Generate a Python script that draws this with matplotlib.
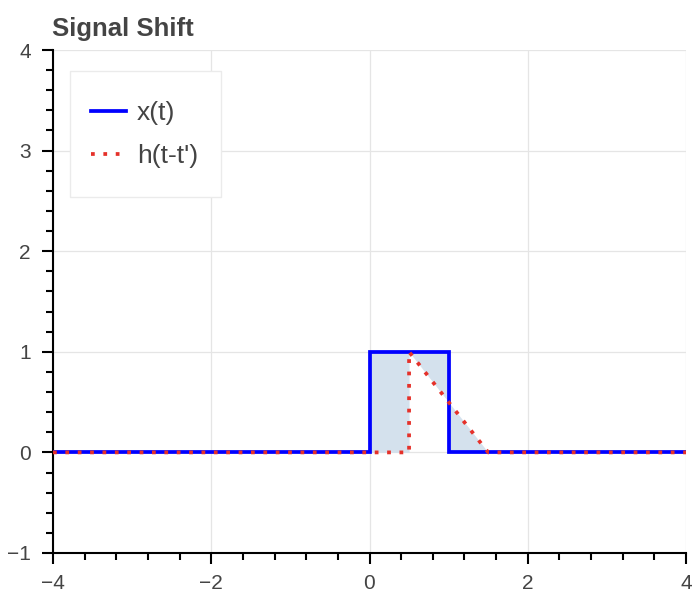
import matplotlib.pyplot as plt
from matplotlib.patches import Rectangle
from matplotlib.ticker import MultipleLocator

# ---- data
t_x = [-4, 0, 0, 1, 1, 4]
x_vals = [0, 0, 1, 1, 0, 0]

t_h = [-4, 0.5, 0.5, 1.5, 4]
h_vals = [0, 0, 1, 0, 0]

# overlap region between x(t) and h(t-t')
t_fill = [0, 0.5, 0.5, 1, 1, 1.5]
x_fill = [1, 1, 1, 1, 0, 0]
h_fill = [0, 0, 1, 0.5, 0.5, 0]

plt.rcParams['font.family'] = ['Liberation Sans', 'DejaVu Sans']
text_col = '#444444'

fig = plt.figure(figsize=(7.0, 6.04), dpi=100)
W, H = 700, 604
ax = fig.add_axes([53 / W, (H - 553) / H, (686 - 53) / W, (553 - 50) / H])

ax.fill_between(t_fill, x_fill, h_fill, color='#d4e1ed', lw=0, zorder=2)
ax.plot(t_x, x_vals, color='#0000ff', lw=2.7, label='x(t)', zorder=3,
        solid_joinstyle='miter')
ax.plot(t_h, h_vals, color='#e5312a', lw=2.7, ls=(0, (1.0, 2.3)),
        label="h(t-t')", zorder=4)

ax.set_xlim(-4, 4)
ax.set_ylim(-1, 4)
ax.xaxis.set_major_locator(MultipleLocator(2))
ax.xaxis.set_minor_locator(MultipleLocator(0.4))
ax.yaxis.set_major_locator(MultipleLocator(1))
ax.yaxis.set_minor_locator(MultipleLocator(0.2))

ax.grid(True, which='major', color='#e5e5e5', lw=0.9, zorder=0)
ax.set_axisbelow(True)

for s in ['top', 'right']:
    ax.spines[s].set_visible(False)
for s in ['left', 'bottom']:
    ax.spines[s].set_linewidth(1.5)
    ax.spines[s].set_color('black')

ax.tick_params(which='major', direction='out', length=8, width=1.5,
               labelsize=15, labelcolor=text_col, color='black')
ax.tick_params(axis='y', which='major', pad=8)
ax.tick_params(axis='x', which='major', pad=7)
ax.tick_params(which='minor', direction='out', length=5, width=1.5, color='black')

# legend box drawn separately so the padding can differ per side
box = Rectangle((70 / W, 1 - 197 / H), (221 - 70) / W, (197 - 71) / H,
                transform=fig.transFigure, facecolor='white', edgecolor='#ebebeb',
                lw=1.0, zorder=5)
ax.add_artist(box)
box.set_clip_on(False)

fsize = 19
pad_px = 111 - 71 - 15
leg = ax.legend(loc='upper left',
                bbox_to_anchor=((91 - pad_px) / W, 1 - 76 / H),
                bbox_transform=fig.transFigure,
                borderaxespad=0, fontsize=fsize, handlelength=1.33, handletextpad=0.4,
                labelspacing=0.72, borderpad=pad_px / (fsize * 100 / 72),
                frameon=False, labelcolor=text_col)
leg.set_zorder(6)

fig.text(52 / W, 1 - 36 / H, 'Signal Shift', fontsize=18.5, fontweight='bold',
         color=text_col, ha='left', va='baseline')

fig.savefig('out.png', dpi=100)
